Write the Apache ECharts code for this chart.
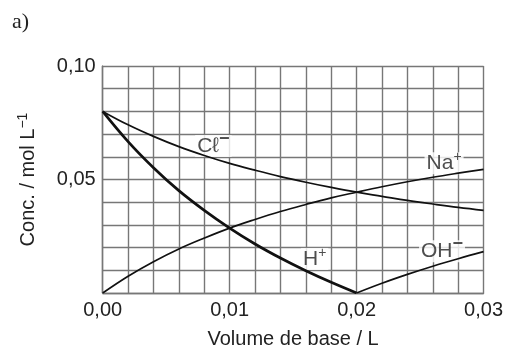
<!DOCTYPE html>
<html>
<head>
<meta charset="utf-8">
<script src="https://cdn.jsdelivr.net/npm/echarts@6/dist/echarts.min.js"></script>
<style>html,body{margin:0;padding:0;background:#fff}#c{width:506px;height:354px}</style>
</head>
<body>
<div id="c"></div>
<script>
// Volume of base added (L)
const volumes = [0, 0.002, 0.004, 0.006, 0.008, 0.010, 0.012, 0.014, 0.016, 0.018, 0.020, 0.022, 0.024, 0.026, 0.028, 0.030];
// Concentrations (mol/L)
const chloride = [0.080, 0.0741, 0.0690, 0.0645, 0.0606, 0.0571, 0.0541, 0.0513, 0.0488, 0.0465, 0.0444, 0.0426, 0.0408, 0.0392, 0.0377, 0.0364];
const sodium   = [0, 0.0074, 0.0138, 0.0194, 0.0242, 0.0286, 0.0324, 0.0359, 0.0390, 0.0419, 0.0444, 0.0468, 0.0490, 0.0510, 0.0528, 0.0545];
const hydrogen = [0.080, 0.0667, 0.0552, 0.0451, 0.0364, 0.0286, 0.0216, 0.0154, 0.0098, 0.0047, 0];
const hydroxide = [0, 0.0043, 0.0082, 0.0118, 0.0151, 0.0182];
const xTickLabels = ['0,00', '0,01', '0,02', '0,03'];
const yTickLabels = ['0,05', '0,10'];
// Curve label anchors [x, y, text]
const curveLabels = [
  [0.00872, 0.0648, '{b|Cℓ}{m|−}'],
  [0.02689, 0.0572, '{b|Na}{s|+}'],
  [0.0167, 0.0150, '{b|H}{s|+}'],
  [0.02673, 0.0184, '{b|OH}{m|−}']
];

const pair = (xs, ys, off) => ys.map((y, i) => [xs[i + (off || 0)], y]);
const FONT = '"Liberation Sans", Arial, sans-serif';
const GRID = '#777777';
const supStyle = {fontFamily: FONT, fontSize: 14, color: '#222', lineHeight: 12, padding: [0, 0, 12, 0]};
const minusStyle = {fontFamily: FONT, fontSize: 18, fontWeight: 'bold', color: '#222', lineHeight: 12, padding: [0, 0, 14, 0]};

const chart = echarts.init(document.getElementById('c'), null, {renderer: 'canvas'});
chart.setOption({
  backgroundColor: '#fff',
  animation: false,
  title: {
    text: 'a)', left: 7, top: 6,
    textStyle: {fontFamily: '"Liberation Serif", "DejaVu Serif", serif', fontSize: 22, fontWeight: 'normal', color: '#222'}
  },
  grid: {left: 102.7, right: 22, top: 66, bottom: 56.7, containLabel: false},
  xAxis: {
    type: 'value', min: 0, max: 0.03, interval: 0.002,
    name: 'Volume de base / L', nameLocation: 'middle', nameGap: 36,
    nameTextStyle: {fontFamily: FONT, fontSize: 20, color: '#222'},
    axisLine: {show: true, lineStyle: {color: GRID, width: 1.4}},
    axisTick: {show: false},
    splitLine: {show: true, lineStyle: {color: GRID, width: 1.4}},
    axisLabel: {
      fontFamily: FONT, fontSize: 20, color: '#222', margin: 7,
      formatter: v => { const k = Math.round(v * 1000); return k % 10 === 0 ? xTickLabels[k / 10] : ''; }
    }
  },
  yAxis: {
    type: 'value', min: 0, max: 0.1, interval: 0.01,
    name: '{n|Conc. / mol L}{s|−1}', nameLocation: 'middle', nameGap: 63, nameRotate: 90,
    nameTextStyle: {fontFamily: FONT, fontSize: 20, color: '#222',
      rich: {n: {fontFamily: FONT, fontSize: 20, color: '#222', lineHeight: 22}, s: supStyle}},
    axisLine: {show: true, lineStyle: {color: GRID, width: 1.4}},
    axisTick: {show: false},
    splitLine: {show: true, lineStyle: {color: GRID, width: 1.4}},
    axisLabel: {
      fontFamily: FONT, fontSize: 20, color: '#222', margin: 7,
      formatter: v => { const k = Math.round(v * 100); return k === 5 ? yTickLabels[0] : (k === 10 ? yTickLabels[1] : ''); }
    }
  },
  series: [
    {type: 'line', data: pair(volumes, chloride), smooth: 0.4, symbol: 'none', lineStyle: {color: '#111', width: 1.7}, z: 4},
    {type: 'line', data: pair(volumes, sodium), smooth: 0.4, symbol: 'none', lineStyle: {color: '#111', width: 1.7}, z: 4},
    {type: 'line', data: pair(volumes, hydrogen), smooth: 0.4, symbol: 'none', lineStyle: {color: '#111', width: 2.7}, z: 4},
    {type: 'line', data: pair(volumes, hydroxide, 10), smooth: 0.4, symbol: 'none', lineStyle: {color: '#111', width: 1.7}, z: 4},
    {
      type: 'scatter', symbolSize: 0, z: 2,
      data: curveLabels.map(d => ({value: [d[0], d[1]], label: {formatter: d[2]}})),
      label: {
        show: true, position: 'inside', backgroundColor: '#fff', padding: [0, 2, 0, 2],
        rich: {
          b: {fontFamily: FONT, fontSize: 21, color: '#222', lineHeight: 22},
          s: supStyle,
          m: minusStyle
        }
      }
    }
  ]
});
</script>
</body>
</html>
